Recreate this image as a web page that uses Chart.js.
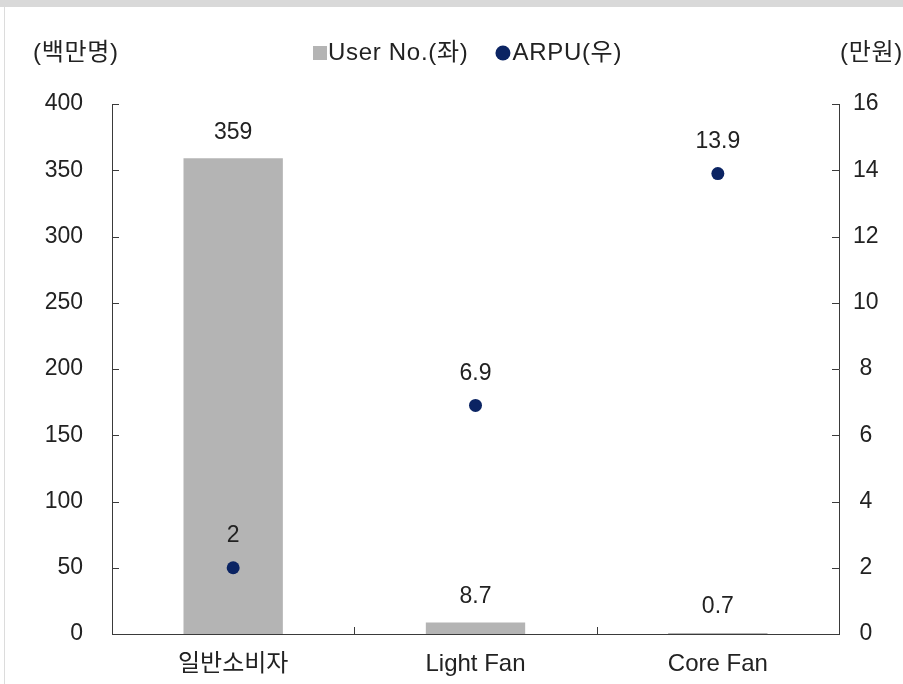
<!DOCTYPE html>
<html>
<head>
<meta charset="utf-8">
<script src="https://cdn.jsdelivr.net/npm/chart.js@4/dist/chart.umd.min.js"></script>
<style>
  html, body { margin: 0; padding: 0; background: #fff; }
  #wrap { position: relative; width: 903px; height: 684px; overflow: hidden; }
  #band { position: absolute; left: 0; top: 0; width: 903px; height: 7px; background: #d9d9d9; }
  #edge { position: absolute; left: 4px; top: 7px; width: 1px; height: 677px; background: #dcdcdc; }
  canvas { position: absolute; left: 0; top: 0; }
</style>
</head>
<body>
<div id="wrap">
  <canvas id="chart" width="903" height="684"></canvas>
  <div id="band"></div>
  <div id="edge"></div>
</div>
<script>
// data
var categories = ['일반소비자', 'Light Fan', 'Core Fan'];
var userNo = [359, 8.7, 0.7];
var arpu = [2, 6.9, 13.9];
var leftTicks = { min: 0, max: 400, step: 50 };
var rightTicks = { min: 0, max: 16, step: 2 };
var leftUnit = '(백만명)';
var rightUnit = '(만원)';

var FONT = '"Liberation Sans", "Noto Sans CJK KR", Arial, sans-serif';
var FSIZE = 23;
var TEXT = '#222222';
var AXIS = '#3a3a3a';
var BAR = '#b4b4b4';
var DOT = '#0b2463';

// inward ticks, category separators, value labels, legend, unit titles
var decor = {
    id: 'decor',
    afterDatasetsDraw: function( chart ) {
        var ctx = chart.ctx;
        var area = chart.chartArea;
        var x = chart.scales.x, y = chart.scales.y, y2 = chart.scales.y2;
        var len = 7;

        ctx.save();
        ctx.strokeStyle = AXIS;
        ctx.lineWidth = 1;
        ctx.beginPath();
        y.ticks.forEach( function( t ) {
            var py = Math.round( y.getPixelForValue( t.value ) ) + 0.5;
            ctx.moveTo( area.left, py );
            ctx.lineTo( area.left + len, py );
        } );
        y2.ticks.forEach( function( t ) {
            var py = Math.round( y2.getPixelForValue( t.value ) ) + 0.5;
            ctx.moveTo( area.right, py );
            ctx.lineTo( area.right - len, py );
        } );
        for ( var i = 0; i < categories.length - 1; i++ ) {
            var px = Math.round( ( x.getPixelForValue( i ) + x.getPixelForValue( i + 1 ) ) / 2 ) + 0.5;
            ctx.moveTo( px, area.bottom );
            ctx.lineTo( px, area.bottom - len );
        }
        ctx.stroke();

        // value labels
        ctx.font = FSIZE + 'px ' + FONT;
        ctx.fillStyle = TEXT;
        ctx.textAlign = 'center';
        ctx.textBaseline = 'middle';
        chart.getDatasetMeta( 0 ).data.forEach( function( el, i ) {
            ctx.fillText( String( userNo[i] ), el.x, el.y - 26 );
        } );
        chart.getDatasetMeta( 1 ).data.forEach( function( el, i ) {
            ctx.fillText( String( arpu[i] ), el.x, el.y - 32 );
        } );

        // unit titles and legend use a slightly wider face
        ctx.font = '24px ' + FONT;
        ctx.letterSpacing = '0.7px';
        ctx.textAlign = 'left';
        ctx.fillText( leftUnit, 33, 53 );
        ctx.textAlign = 'right';
        ctx.fillText( rightUnit, 903, 53 );

        var ds = chart.data.datasets;
        var lx = 313, ly = 53;
        ctx.textAlign = 'left';
        ctx.fillStyle = BAR;
        ctx.fillRect( lx, ly - 7, 14, 14 );
        ctx.fillStyle = TEXT;
        ctx.fillText( ds[0].label, lx + 15, ly );
        lx = lx + 15 + ctx.measureText( ds[0].label ).width + 27;
        ctx.fillStyle = DOT;
        ctx.beginPath();
        ctx.arc( lx + 7.5, ly, 7.5, 0, Math.PI * 2 );
        ctx.fill();
        ctx.fillStyle = TEXT;
        ctx.fillText( ds[1].label, lx + 17, ly );
        ctx.restore();
    }
};

var canvas = document.getElementById( 'chart' );
var chart = new Chart( canvas, {
    data: {
        labels: categories,
        datasets: [ {
            type: 'bar',
            label: 'User No.(좌)',
            data: userNo,
            backgroundColor: BAR,
            barPercentage: 0.41,
            categoryPercentage: 1,
            yAxisID: 'y',
            order: 2
        }, {
            type: 'line',
            label: 'ARPU(우)',
            data: arpu,
            showLine: false,
            pointRadius: 6.5,
            pointHoverRadius: 6.5,
            pointBackgroundColor: DOT,
            pointBorderWidth: 0,
            yAxisID: 'y2',
            order: 1
        } ]
    },
    options: {
        responsive: false,
        devicePixelRatio: 1,
        animation: false,
        layout: {
            padding: { top: 104, left: 0, right: 0, bottom: 0 }
        },
        plugins: {
            legend: { display: false },
            tooltip: { enabled: false }
        },
        scales: {
            x: {
                offset: true,
                grid: { display: false, drawTicks: false },
                border: { display: true, color: AXIS, width: 1 },
                ticks: {
                    padding: 16,
                    color: TEXT,
                    font: { family: FONT, size: 24 }
                },
                afterFit: function( scale ) { scale.height = 50; }
            },
            y: {
                position: 'left',
                min: leftTicks.min,
                max: leftTicks.max,
                grid: { display: false, drawTicks: false },
                border: { display: true, color: AXIS, width: 1 },
                ticks: {
                    stepSize: leftTicks.step,
                    padding: 29,
                    color: TEXT,
                    font: { family: FONT, size: FSIZE }
                },
                afterFit: function( scale ) { scale.width = 112; }
            },
            y2: {
                position: 'right',
                min: rightTicks.min,
                max: rightTicks.max,
                grid: { display: false, drawTicks: false },
                border: { display: true, color: AXIS, width: 1 },
                ticks: {
                    stepSize: rightTicks.step,
                    padding: 14,
                    crossAlign: 'center',
                    color: TEXT,
                    font: { family: FONT, size: FSIZE }
                },
                afterFit: function( scale ) { scale.width = 64; }
            }
        }
    },
    plugins: [ decor ]
} );
</script>
</body>
</html>
